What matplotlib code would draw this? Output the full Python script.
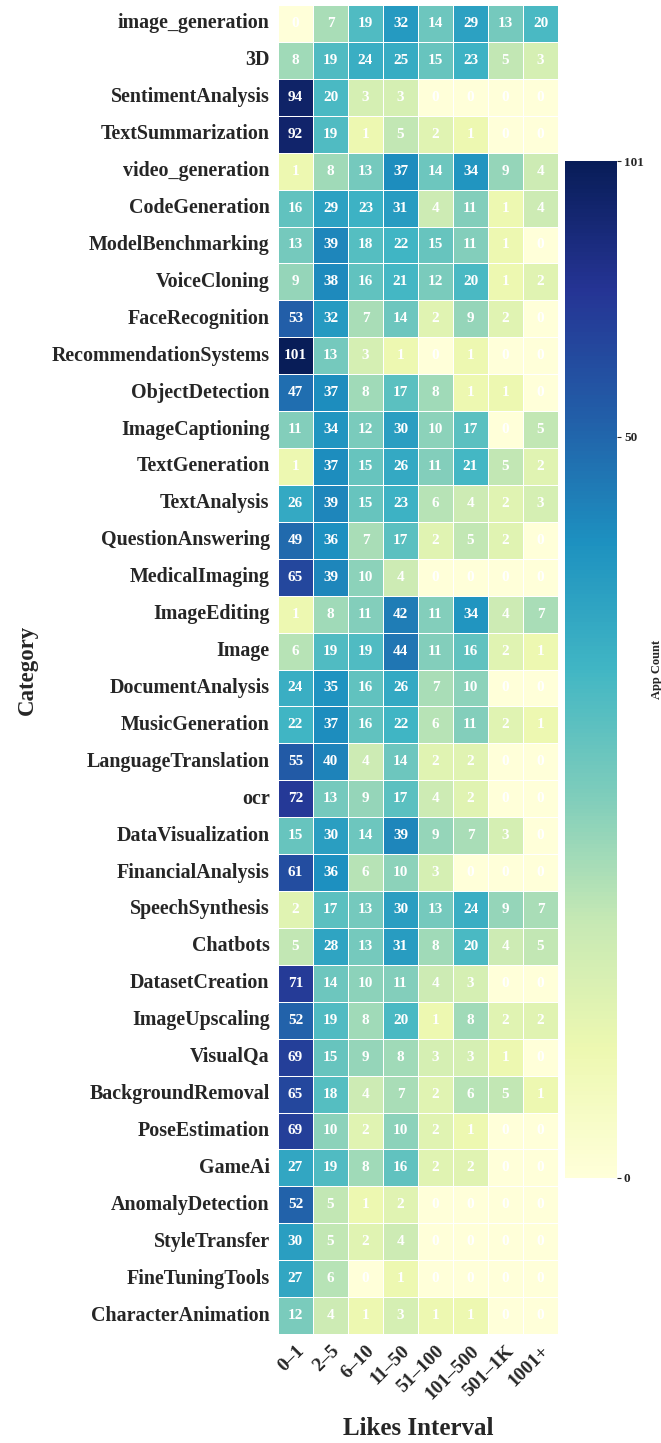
import numpy as np
import pandas as pd
import matplotlib
matplotlib.use("Agg")
import matplotlib.pyplot as plt
from matplotlib.colors import PowerNorm
import seaborn as sns

# --- Data ---
categories = [
    "image_generation", "3D", "SentimentAnalysis", "TextSummarization", "video_generation",
    "CodeGeneration", "ModelBenchmarking", "VoiceCloning", "FaceRecognition",
    "RecommendationSystems", "ObjectDetection", "ImageCaptioning", "TextGeneration",
    "TextAnalysis", "QuestionAnswering", "MedicalImaging", "ImageEditing", "Image",
    "DocumentAnalysis", "MusicGeneration", "LanguageTranslation", "ocr",
    "DataVisualization", "FinancialAnalysis", "SpeechSynthesis", "Chatbots",
    "DatasetCreation", "ImageUpscaling", "VisualQa", "BackgroundRemoval",
    "PoseEstimation", "GameAi", "AnomalyDetection", "StyleTransfer",
    "FineTuningTools", "CharacterAnimation",
]
intervals = ["0\u20131", "2\u20135", "6\u201310", "11\u201350", "51\u2013100",
             "101\u2013500", "501\u20131K", "1001+"]
counts = [
    [0, 7, 19, 32, 14, 29, 13, 20],
    [8, 19, 24, 25, 15, 23, 5, 3],
    [94, 20, 3, 3, 0, 0, 0, 0],
    [92, 19, 1, 5, 2, 1, 0, 0],
    [1, 8, 13, 37, 14, 34, 9, 4],
    [16, 29, 23, 31, 4, 11, 1, 4],
    [13, 39, 18, 22, 15, 11, 1, 0],
    [9, 38, 16, 21, 12, 20, 1, 2],
    [53, 32, 7, 14, 2, 9, 2, 0],
    [101, 13, 3, 1, 0, 1, 0, 0],
    [47, 37, 8, 17, 8, 1, 1, 0],
    [11, 34, 12, 30, 10, 17, 0, 5],
    [1, 37, 15, 26, 11, 21, 5, 2],
    [26, 39, 15, 23, 6, 4, 2, 3],
    [49, 36, 7, 17, 2, 5, 2, 0],
    [65, 39, 10, 4, 0, 0, 0, 0],
    [1, 8, 11, 42, 11, 34, 4, 7],
    [6, 19, 19, 44, 11, 16, 2, 1],
    [24, 35, 16, 26, 7, 10, 0, 0],
    [22, 37, 16, 22, 6, 11, 2, 1],
    [55, 40, 4, 14, 2, 2, 0, 0],
    [72, 13, 9, 17, 4, 2, 0, 0],
    [15, 30, 14, 39, 9, 7, 3, 0],
    [61, 36, 6, 10, 3, 0, 0, 0],
    [2, 17, 13, 30, 13, 24, 9, 7],
    [5, 28, 13, 31, 8, 20, 4, 5],
    [71, 14, 10, 11, 4, 3, 0, 0],
    [52, 19, 8, 20, 1, 8, 2, 2],
    [69, 15, 9, 8, 3, 3, 1, 0],
    [65, 18, 4, 7, 2, 6, 5, 1],
    [69, 10, 2, 10, 2, 1, 0, 0],
    [27, 19, 8, 16, 2, 2, 0, 0],
    [52, 5, 1, 2, 0, 0, 0, 0],
    [30, 5, 2, 4, 0, 0, 0, 0],
    [27, 6, 0, 1, 0, 0, 0, 0],
    [12, 4, 1, 3, 1, 1, 0, 0],
]

df = pd.DataFrame(counts, index=categories, columns=intervals)

sns.set_theme(style="white")
plt.rcParams['font.family'] = ['Liberation Serif', 'DejaVu Serif']
plt.rcParams['font.weight'] = 'bold'

W, H = 661, 1443
fig = plt.figure(figsize=(W / 100, H / 100), dpi=100)
ax = fig.add_axes([278 / W, (H - 1334) / H, 280 / W, 1329 / H])
cax = fig.add_axes([565 / W, (H - 1178) / H, 52 / W, 1017 / H])

# colour scale is compressed towards the low counts
sns.heatmap(df, ax=ax, cbar_ax=cax, cmap="YlGnBu",
            norm=PowerNorm(gamma=0.45, vmin=0, vmax=101),
            annot=True, fmt="d", linewidths=0.6, linecolor="white",
            annot_kws={"color": "white", "fontsize": 11, "fontweight": "bold"},
            cbar_kws={"ticks": [0, 50, 101]})

ax.set_xticklabels(intervals, rotation=45, ha="right", rotation_mode="anchor",
                   fontsize=14, fontweight="bold", color="#262626")
ax.set_yticklabels(categories, rotation=0, fontsize=14.4, fontweight="bold", color="#262626")
ax.tick_params(axis="both", length=0, pad=6)
ax.set_xlabel("Likes Interval", fontsize=18, fontweight="bold", labelpad=10, color="#262626")
ax.set_ylabel("Category", fontsize=16.5, fontweight="bold", labelpad=10, color="#262626")

cax.tick_params(labelsize=9.5, length=3, width=0.8, color="#262626", pad=2)
cax.set_yticklabels(["0", "50", "101"], fontweight="bold")
cax.set_ylabel("App Count", fontsize=9, fontweight="bold", color="#262626")
cax.yaxis.set_label_position("right")
cax.yaxis.set_label_coords(1.66, 0.5)

fig.savefig("out.png", dpi=100)
